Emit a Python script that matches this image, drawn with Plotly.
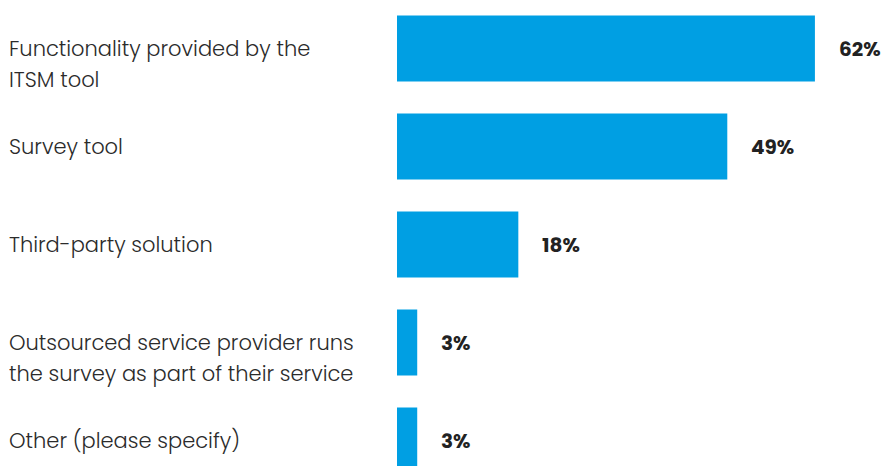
import plotly.graph_objects as go

categories = [
    "Functionality provided by the<br>ITSM tool",
    "Survey tool",
    "Third-party solution",
    "Outsourced service provider runs<br>the survey as part of their service",
    "Other (please specify)",
]
values = [62, 49, 18, 3, 3]
value_labels = ["62%", "49%", "18%", "3%", "3%"]

positions = list(range(len(categories)))
bar_color = "#009FE3"
label_font = dict(family="Poppins, Lato, sans-serif", size=21, color="#2b2b2b", weight=300)
value_font = dict(family="Poppins, Lato, sans-serif", size=20, color="#222222", weight=700)
line_gap_px = 31

fig = go.Figure(
    go.Bar(
        x=values,
        y=positions,
        orientation="h",
        marker=dict(color=bar_color, line=dict(width=0)),
        width=0.673,
        hoverinfo="skip",
    )
)

annotations = []
for pos, cat in zip(positions, categories):
    # each wrapped line is placed separately to control the line spacing
    for k, line in enumerate(cat.split("<br>")):
        annotations.append(dict(
            x=0, xref="paper", xanchor="left", xshift=-390,
            y=pos, yref="y", yanchor="middle", yshift=-k * line_gap_px,
            text=line, showarrow=False, align="left", font=label_font,
        ))
for pos, v, lab in zip(positions, values, value_labels):
    annotations.append(dict(
        x=v, xref="x", xanchor="left", xshift=22,
        y=pos, yref="y", yanchor="middle",
        text=lab, showarrow=False, font=value_font,
    ))

fig.update_layout(
    width=883, height=466,
    margin=dict(l=397, r=0, t=0, b=0),
    paper_bgcolor="white", plot_bgcolor="white",
    showlegend=False,
    xaxis=dict(range=[0, 72.1], visible=False, fixedrange=True),
    yaxis=dict(range=[4.26, -0.495], visible=False, fixedrange=True),
    annotations=annotations,
)

fig.write_html("out.html")
